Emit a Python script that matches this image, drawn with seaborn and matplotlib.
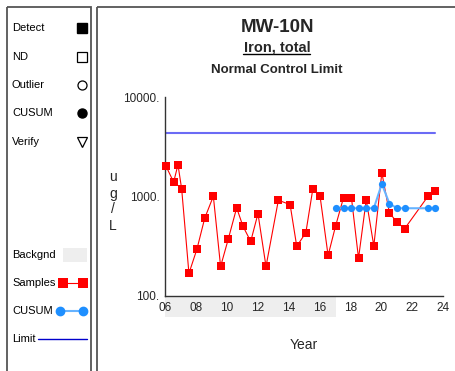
import numpy as np
import matplotlib
matplotlib.use("Agg")
import matplotlib.pyplot as plt
import matplotlib.transforms as mtransforms
from matplotlib.patches import Rectangle
import seaborn as sns

# values (year as 2-digit fraction, ug/L)
sample_year = [6.07, 6.56, 6.84, 7.08, 7.55, 8.07, 8.57, 9.13, 9.60, 10.10,
               10.64, 11.05, 11.55, 12.02, 12.54, 13.34, 14.10, 14.53, 15.12,
               15.57, 16.04, 16.56, 17.04, 17.56, 18.07, 18.53, 19.03, 19.52,
               20.04, 20.53, 21.03, 21.52, 23.03, 23.51]
sample_val = [2000, 1390, 2080, 1180, 167, 294, 600, 1000, 196, 372,
              764, 498, 351, 668, 196, 912, 824, 313, 430,
              1180, 1000, 253, 498, 970, 970, 237, 920, 316,
              1730, 680, 546, 472, 1000, 1130]
cusum_year = [17.04, 17.56, 18.07, 18.53, 19.03, 19.52, 20.04, 20.53,
              21.03, 21.52, 23.03, 23.51]
cusum_val = [757, 757, 757, 757, 757, 757, 1334, 843, 757, 757, 757, 757]
limit_val = 4330
limit_span = [6, 23.51]
backgnd_span = [6, 17.04]
xtick_years = [6, 8, 10, 12, 14, 16, 18, 20, 22, 24]
xtick_labels = ["06", "08", "10", "12", "14", "16", "18", "20", "22", "24"]

sns.set_style("white")
plt.rcParams['font.family'] = ['Liberation Sans', 'DejaVu Sans']

W, H = 455, 371
fig = plt.figure(figsize=(W / 100, H / 100), dpi=100)

# background frame in pixel coordinates
bg = fig.add_axes([0, 0, 1, 1], zorder=0)
bg.set_xlim(0, W)
bg.set_ylim(H, 0)
bg.axis('off')
bg.add_patch(Rectangle((7, 7), 84, 380, fill=False, edgecolor='#555555', lw=1.3))
bg.add_patch(Rectangle((96.5, 7), 380, 380, fill=False, edgecolor='#555555', lw=1.3))

# left legend panel
leg_font = dict(fontsize=8, va='center', ha='left', color='black')
for label, y in [("Detect", 28), ("ND", 57), ("Outlier", 85), ("CUSUM", 113),
                 ("Verify", 142), ("Backgnd", 255), ("Samples", 283),
                 ("CUSUM", 311), ("Limit", 339)]:
    bg.text(12, y, label, **leg_font)
bg.plot([82], [28], marker='s', ms=6.5, color='black', ls='none')
bg.plot([82], [57], marker='s', ms=6.5, mfc='white', mec='black', mew=0.9, ls='none')
bg.plot([82], [85], marker='o', ms=6.5, mfc='white', mec='black', mew=0.9, ls='none')
bg.plot([82], [113], marker='o', ms=6.5, color='black', ls='none')
bg.plot([82], [142], marker='v', ms=7.5, mfc='white', mec='black', mew=0.9, ls='none')
bg.add_patch(Rectangle((63, 248), 24, 14, color='#eeeeee', lw=0))
bg.plot([63, 83], [283, 283], color='red', lw=0.8, marker='s', ms=6.5, mew=0)
bg.plot([60, 83], [311, 311], color='#66b3ff', lw=1.5, marker='o', ms=6,
        mfc='#1e8fff', mec='#1e8fff')
bg.plot([38, 87], [339, 339], color='#0000cc', lw=1.0)

# titles
fig.text(277 / W, 1 - 27 / H, "MW-10N", ha='center', va='center',
         fontsize=13.5, fontweight='bold')
fig.text(277 / W, 1 - 47 / H, "Iron, total", ha='center', va='center',
         fontsize=10.5, fontweight='bold')
bg.plot([243, 310], [54, 54], color='black', lw=1.0)
fig.text(277 / W, 1 - 70 / H, "Normal Control Limit", ha='center', va='center',
         fontsize=9.5, fontweight='bold')

# main chart
ax = fig.add_axes([165 / W, 1 - 295.5 / H, (443 - 165) / W, (295.5 - 97) / H], zorder=2)
ax.patch.set_alpha(0)
ax.set_yscale('log')
ax.set_xlim(6, 24)
ax.set_ylim(100, 10000)

sns.lineplot(x=sample_year, y=sample_val, ax=ax, color='red', lw=0.8,
             marker='s', markersize=5.6, markeredgewidth=0, estimator=None,
             sort=False, zorder=3, clip_on=False)
sns.lineplot(x=cusum_year, y=cusum_val, ax=ax, color='#66b3ff', lw=1.5,
             marker='o', markersize=5.2, markerfacecolor='#1e8fff',
             markeredgewidth=0, estimator=None, sort=False, zorder=4,
             clip_on=False)
ax.plot(limit_span, [limit_val, limit_val], color='#6b6bf5', lw=1.5, zorder=2)

# background band under the x axis
trans = mtransforms.blended_transform_factory(ax.transData, ax.transAxes)
ax.add_patch(Rectangle((backgnd_span[0], -0.11), backgnd_span[1] - backgnd_span[0],
                       0.11, transform=trans, color='#eeeeee', lw=0,
                       clip_on=False, zorder=0))

for s in ['top', 'right']:
    ax.spines[s].set_visible(False)
for s in ['left', 'bottom']:
    ax.spines[s].set_color('#333333')
    ax.spines[s].set_linewidth(1.0)

ax.set_xticks(xtick_years)
ax.set_xticklabels(xtick_labels)
ax.set_xticks(np.arange(7, 24, 2), minor=True)
ax.tick_params(axis='x', which='both', direction='in', length=3, width=0.8,
               color='#333333', labelsize=8.5, pad=4.5)
ax.set_yticks([100, 1000, 10000])
ax.set_yticklabels(["100.", "1000.", "10000."])
ax.tick_params(axis='y', which='major', direction='out', length=3, width=0.8,
               color='#333333', labelsize=8.5, pad=1)
ax.tick_params(axis='y', which='minor', direction='out', length=2, width=0.7,
               color='#333333')
ax.grid(False)
ax.set_xlabel("")
ax.set_ylabel("")

fig.text(304 / W, 1 - 345 / H, "Year", ha='center', va='center', fontsize=10)
for ch, y in [("u", 177), ("g", 194), ("/", 209), ("L", 226)]:
    fig.text(113 / W, 1 - y / H, ch, ha='center', va='center', fontsize=10)

fig.savefig("out.png", dpi=100)
